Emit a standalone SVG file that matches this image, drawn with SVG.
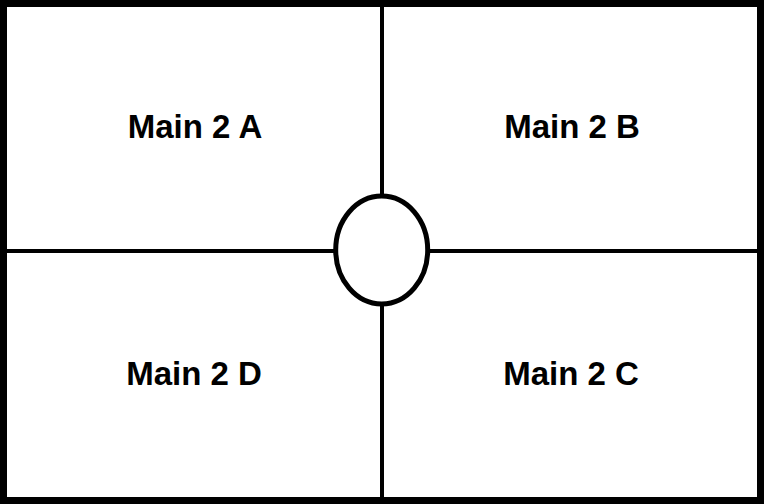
<svg xmlns="http://www.w3.org/2000/svg" width="764" height="504" viewBox="0 0 764 504">
<style>
.lbl{font-family:"Liberation Sans",Arial,sans-serif;font-weight:bold;font-size:33px;fill:#000;text-anchor:middle}
.ln{stroke:#000;stroke-width:4;fill:none}
</style>
<rect x="0" y="0" width="764" height="504" fill="#fff"/>
<rect x="3.5" y="3.5" width="757" height="497" fill="#fff" stroke="#000" stroke-width="7"/>
<g id="connectors">
<line class="ln" x1="382" y1="7" x2="382" y2="498"/>
<line class="ln" x1="7" y1="251" x2="757" y2="251"/>
</g>
<g id="hub"><ellipse cx="381.7" cy="250" rx="46" ry="54" fill="#fff" stroke="#000" stroke-width="5"/></g>
<g id="nodeA"><text class="lbl" x="195" y="138">Main 2 A</text></g>
<g id="nodeB"><text class="lbl" x="572" y="138">Main 2 B</text></g>
<g id="nodeD"><text class="lbl" x="194" y="385">Main 2 D</text></g>
<g id="nodeC"><text class="lbl" x="571" y="385">Main 2 C</text></g>
</svg>
